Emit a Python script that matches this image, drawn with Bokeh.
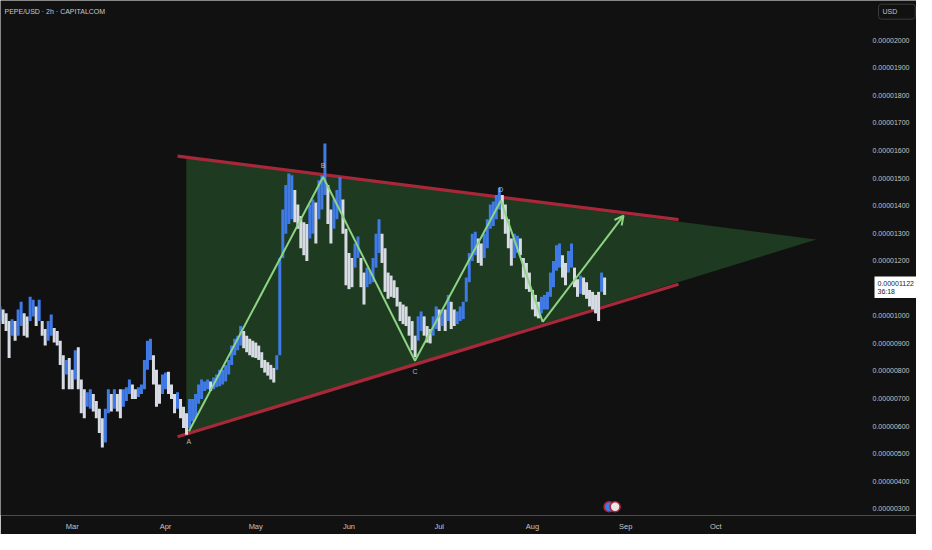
import numpy as np
import pandas as pd
from bokeh.plotting import figure
from bokeh.models import Range1d, FixedTicker, DatetimeTickFormatter, Label, Arrow, OpenHead
from bokeh.core.properties import value
from bokeh.embed import file_html
from bokeh.resources import INLINE

# ---------------- data (prices in units of 1e-8 USD) ----------------
first_day = "2025-02-05"
day_high = [1034, 1023, 1009, 981, 988, 981, 1023, 1051, 1009, 998,
            1069, 1058, 1034, 1058, 981, 952, 981, 1005, 956, 945,
            910, 857, 840, 847,
            804, 875, 886, 769, 734, 723, 734, 716, 691, 663,
            628, 663, 734, 716, 734, 716, 734, 734, 741, 769,
            751, 734, 741, 751, 840, 910, 917, 857, 804, 751,
            787, 794, 797, 751, 716, 723, 698, 670, 646, 698,
            698, 716, 751, 769, 762, 769, 762, 776, 787, 804,
            804, 822, 840, 892, 917, 928, 963, 945, 928, 917,
            910, 903, 892, 868, 840, 832, 822, 811, 857, 1210,
            1386, 1475, 1517, 1510, 1457, 1404, 1362, 1340, 1333, 1404,
            1422, 1411, 1492, 1510, 1626, 1475, 1386, 1422, 1457, 1503,
            1422, 1316, 1228, 1210, 1263, 1288, 1210, 1157, 1175, 1164,
            1210, 1298, 1351, 1298, 1245, 1157, 1146, 1129, 1104, 1051,
            1041, 1034, 998, 981, 928, 998, 1016, 998, 963, 952,
            998, 1034, 1023, 1016, 1023, 1076, 1051, 1023, 1016, 1034,
            1051, 1139, 1228, 1298, 1305, 1281, 1263, 1298, 1351, 1404,
            1415, 1439, 1464, 1439, 1404, 1351, 1281, 1298, 1291, 1281,
            1210, 1192, 1157, 1094, 1076, 1051, 1069, 1076, 1087, 1157,
            1199, 1256, 1263, 1220, 1192, 1235, 1263, 1175, 1133, 1146,
            1139, 1122, 1094, 1087, 1076, 1087, 1157, 1139]
day_low = [981, 970, 945, 847, 928, 910, 928, 963, 928, 921,
           981, 998, 963, 981, 928, 892, 910, 928, 903, 892,
           822, 734, 787, 734,
           734, 769, 734, 646, 628, 670, 663, 653, 628, 575,
           522, 540, 646, 653, 663, 653, 628, 670, 691, 716,
           698, 698, 705, 716, 734, 804, 840, 751, 670, 681,
           716, 734, 716, 698, 646, 663, 628, 593, 568, 593,
           617, 628, 681, 698, 727, 734, 727, 734, 741, 744,
           751, 762, 787, 822, 857, 875, 892, 882, 868, 857,
           850, 847, 840, 811, 794, 783, 769, 758, 804, 857,
           1210, 1298, 1333, 1351, 1340, 1316, 1245, 1220, 1199, 1281,
           1298, 1263, 1351, 1386, 1439, 1333, 1263, 1316, 1351, 1386,
           1298, 1111, 1097, 1104, 1175, 1210, 1104, 1041, 1104, 1115,
           1122, 1175, 1228, 1192, 1087, 1062, 1069, 1065, 1034, 981,
           970, 963, 928, 875, 850, 910, 945, 928, 903, 900,
           928, 952, 945, 963, 945, 981, 952, 963, 970, 981,
           988, 1051, 1122, 1199, 1220, 1192, 1182, 1210, 1245, 1316,
           1326, 1351, 1386, 1351, 1298, 1245, 1182, 1210, 1228, 1220,
           1139, 1097, 1087, 1023, 998, 991, 1009, 1023, 1023, 1069,
           1104, 1164, 1175, 1139, 1111, 1157, 1175, 1104, 1069, 1080,
           1076, 1062, 1034, 1023, 1009, 981, 1087, 1076]
last_price = 1122
countdown = "36:18"

# wave points A..E and the projected target
wave_labels = ["A", "B", "C", "D"]
wave_dates = ["2025-04-08 19:00", "2025-05-23 10:00", "2025-06-22 23:00", "2025-07-21 12:00", "2025-08-04 10:00"]
wave_prices = [581, 1504, 837, 1418, 978]
target_date = "2025-08-31 07:00"
target_price = 1364

# converging trend lines and triangle zone
line_dates = ["2025-04-05 00:00", "2025-09-18 14:00"]
upper_prices = [1580, 1349]
lower_prices = [561, 1115]
zone_dates = ["2025-04-07 22:00", "2025-11-03 10:00", "2025-04-07 22:00"]
zone_prices = [1576, 1277, 571]

event_dates = ["2025-08-26 12:00", "2025-08-28 12:00"]

month_ticks = ["2025-03-01", "2025-04-01", "2025-05-01", "2025-06-01",
               "2025-07-01", "2025-08-01", "2025-09-01", "2025-10-01"]
# 0.00001100 is hidden behind the last-price box in the original
price_ticks = [300, 400, 500, 600, 700, 800, 900, 1000, 1200, 1300,
               1400, 1500, 1600, 1700, 1800, 1900, 2000]

# ---------------- style ----------------
BG = "#111111"
FONT = "Liberation Sans"
TXT = "#c4c4c4"
RED = "#a8283a"
GREEN = "#8cd483"
ZONE = "#1e3a21"
BLUE = "#3f7ae6"
WHITE = "#d6dbe4"
S = 1e-8
W, H, FW, FH = 916, 534, 916, 515


def ms(s):
    return pd.Timestamp(s).value / 1e6


X0, X1 = ms("2025-02-05 03:20"), ms("2025-12-06 17:00")

dates = pd.date_range(first_day, periods=len(day_high), freq="D")
hi = np.array(day_high, dtype=float)
lo = np.array(day_low, dtype=float)
mid = (hi + lo) / 2
colors = [BLUE] + [BLUE if mid[i] >= mid[i - 1] else WHITE for i in range(1, len(mid))]

p = figure(frame_width=FW, frame_height=FH, x_axis_type="datetime", y_axis_location=None,
           output_backend="svg", toolbar_location=None,
           x_range=Range1d(X0, X1), y_range=Range1d(275.3 * S, 2144.6 * S),
           background_fill_color=BG, border_fill_color=BG,
           min_border_left=0, min_border_top=0, min_border_right=0, min_border_bottom=H - FH)
p.outline_line_color = None
p.xgrid.visible = False
p.ygrid.visible = False

# zone and trend lines
p.patch([pd.Timestamp(d) for d in zone_dates], [v * S for v in zone_prices],
        fill_color=ZONE, line_color=None)
ld = [pd.Timestamp(d) for d in line_dates]
p.line(ld, [v * S for v in upper_prices], line_color=RED, line_width=3.2)
p.line(ld, [v * S for v in lower_prices], line_color=RED, line_width=3.2)

# price bars
p.segment(x0=dates, y0=lo * S, x1=dates, y1=hi * S, line_color=colors, line_width=3)

# wave path
wd = [pd.Timestamp(d) for d in wave_dates]
p.line(wd, [v * S for v in wave_prices], line_color=GREEN, line_width=2)
p.add_layout(Arrow(end=OpenHead(size=9, line_color=GREEN, line_width=2),
                   x_start=ms(wave_dates[-1]), y_start=wave_prices[-1] * S,
                   x_end=ms(target_date), y_end=target_price * S,
                   line_color=GREEN, line_width=2))

offsets = [-10, 11, -11, 11]
for lab, d, v, off in zip(wave_labels, wave_dates, wave_prices, offsets):
    p.add_layout(Label(x=ms(d), y=v * S, y_offset=off, text=lab, text_align="center",
                       text_baseline="middle", text_font=FONT, text_font_size="7px",
                       text_color="#b8b8b8"))

# event markers
p.scatter([pd.Timestamp(d) for d in event_dates], [307 * S, 307 * S], size=10,
          fill_color=[BLUE, "#e8e8e8"], line_color=RED, line_width=1.6)

# time axis
p.xaxis.ticker = FixedTicker(ticks=[ms(d) for d in month_ticks])
p.xaxis.formatter = DatetimeTickFormatter(days="%b", months="%b", years="%b", hours="%b")
ax = p.xaxis[0]
ax.axis_line_color = None
ax.major_tick_line_color = None
ax.minor_tick_line_color = None
ax.major_label_text_color = TXT
ax.major_label_text_font = FONT
ax.major_label_text_font_size = "7.5px"
ax.major_label_standoff = 0

# price scale (drawn at the right edge of the pane)
label_x = X0 + (X1 - X0) * 909 / FW
p.text(x=[label_x] * len(price_ticks), y=[v * S for v in price_ticks],
       text=["%.8f" % (v * S) for v in price_ticks], text_align="right",
       text_baseline="middle", text_font=value(FONT), text_font_size="7px",
       text_color=TXT)

# header and price-scale boxes
p.add_layout(Label(x=4, x_units="screen", y=2106 * S, text="PEPE/USD · 2h · CAPITALCOM",
                   text_baseline="middle", text_font=FONT, text_font_size="7px",
                   text_color="#c8c8c8"))
p.add_layout(Label(x=878, x_units="screen", y=2104 * S, text="USD\u2002\u2002\u2002\u2002",
                   text_baseline="middle", text_font=FONT, text_font_size="7px",
                   text_color=TXT, border_line_color="#3a3a3a", border_line_width=1,
                   border_radius=3, padding=4))
p.add_layout(Label(x=874, x_units="screen", y=last_price * S, y_offset=-5,
                   text="%.8f\n%s" % (last_price * S, countdown),
                   text_baseline="middle", text_font=FONT, text_font_size="7px",
                   text_color="#1a1a1a", background_fill_color="#ffffff", padding=3))

open("out.html", "w").write(file_html(p, INLINE))
